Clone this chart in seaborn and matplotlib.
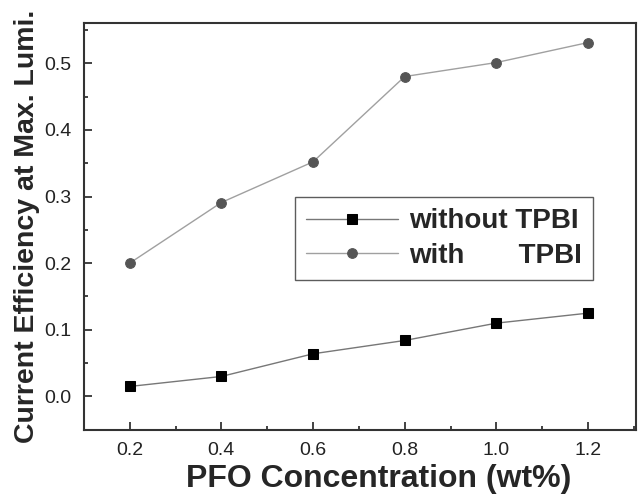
import matplotlib.pyplot as plt
import seaborn as sns
import pandas as pd
from matplotlib.ticker import MultipleLocator, AutoMinorLocator

pfo = [0.2, 0.4, 0.6, 0.8, 1.0, 1.2]
without_tpbi = [0.015, 0.030, 0.064, 0.084, 0.110, 0.125]
with_tpbi = [0.200, 0.291, 0.352, 0.480, 0.501, 0.531]

df = pd.DataFrame({
    "PFO": pfo + pfo,
    "eff": without_tpbi + with_tpbi,
    "series": ["without TPBI"] * len(pfo) + ["with       TPBI"] * len(pfo),
})

sns.set_style("ticks")
plt.rcParams["font.family"] = ["Liberation Sans", "DejaVu Sans"]

fig = plt.figure(figsize=(6.4, 4.94), dpi=100)
ax = fig.add_axes([0.131, 0.13, 0.863, 0.823])

sns.lineplot(data=df[df.series == "without TPBI"], x="PFO", y="eff", ax=ax,
             color="#777777", lw=1, marker="s", markersize=6.5,
             markerfacecolor="black", markeredgecolor="black",
             label="without TPBI")
sns.lineplot(data=df[df.series != "without TPBI"], x="PFO", y="eff", ax=ax,
             color="#a0a0a0", lw=1, marker="o", markersize=7,
             markerfacecolor="#555555", markeredgecolor="#555555",
             label="with       TPBI")

ax.set_xlim(0.1, 1.305)
ax.set_ylim(-0.05, 0.56)
ax.xaxis.set_major_locator(MultipleLocator(0.2))
ax.yaxis.set_major_locator(MultipleLocator(0.1))
ax.xaxis.set_minor_locator(AutoMinorLocator(2))
ax.yaxis.set_minor_locator(AutoMinorLocator(2))
ax.tick_params(which="both", direction="in", top=False, right=False, width=1.2,
               labelsize=14, colors="#222222")
ax.tick_params(which="major", length=6, pad=9)
ax.tick_params(which="minor", length=3)
ax.set_xticklabels([f"{v:.1f}" for v in ax.get_xticks()])
for s in ax.spines.values():
    s.set_linewidth(1.5)
    s.set_color("#333333")

ax.set_xlabel("PFO Concentration (wt%)", fontsize=23, fontweight="bold")
ax.xaxis.set_label_coords(0.534, -0.085)
ax.set_ylabel("Current Efficiency at Max. Lumi.", fontsize=20.5, fontweight="bold")
ax.yaxis.set_label_coords(-0.08, 0.5)

leg = ax.legend(loc="upper left", bbox_to_anchor=(0.382, 0.572), frameon=True,
                fancybox=False, edgecolor="#333333", borderaxespad=0,
                prop={"weight": "bold", "size": 20}, handlelength=3.3,
                borderpad=0.4, labelspacing=0.3, handletextpad=0.4)
leg.get_frame().set_linewidth(1)

fig.savefig("out.png", dpi=100)
